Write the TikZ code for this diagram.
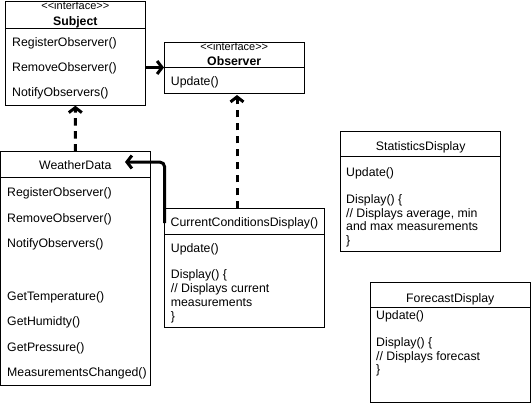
\documentclass[tikz,border=0pt]{standalone}
\usepackage{fontspec}
\setmainfont{Liberation Sans}
\usetikzlibrary{arrows.meta,calc}
\newcommand{\fs}{\fontsize{12.3}{14}\selectfont}
\newcommand{\fss}{\fontsize{11}{12}\selectfont}
\newcommand{\stereotxt}{<{}<interface>{}>}
\begin{document}
\begin{tikzpicture}[x=1pt,y=-1pt,
  box/.style={draw, line width=1pt, rectangle, inner sep=0pt, outer sep=0pt, anchor=north west},
  txt/.style={anchor=base west, inner sep=0pt, font=\fs},
  ttl/.style={anchor=base, inner sep=0pt, font=\fs},
  ttlb/.style={anchor=base, inner sep=0pt, font=\fs\bfseries},
  stereo/.style={anchor=base, inner sep=0pt, font=\fss},
  divider/.style={line width=1pt},
  conn/.style={line width=3pt, -{Straight Barb[length=5pt,width=13pt]}},
  dconn/.style={line width=3pt, dash pattern=on 7.5pt off 5.5pt, -{Straight Barb[length=5pt,width=13pt]}}
]
\useasboundingbox (0,0) rectangle (531,405);

% Subject
\node[box, minimum width=140.7pt, minimum height=104.7pt] (subject) at (5,1) {};
\draw[divider] (subject.west |- 0,28) -- (subject.east |- 0,28);
\node[stereo] (subst) at (75.3,9.5) {\stereotxt};
\node[ttlb] (subname) at (75.3,25) {Subject};
\node[txt] (s1) at (12,46) {RegisterObserver()};
\node[txt] (s2) at (12,71.7) {RemoveObserver()};
\node[txt] (s3) at (12,96) {NotifyObservers()};

% Observer
\node[box, minimum width=140.3pt, minimum height=51pt] (observer) at (164,42) {};
\draw[divider] (observer.west |- 0,67) -- (observer.east |- 0,67);
\node[stereo] (obst) at (234.2,50) {\stereotxt};
\node[ttlb] (obname) at (234.2,65) {Observer};
\node[txt] (o1) at (170.7,85) {Update()};

% WeatherData
\node[box, minimum width=149.5pt, minimum height=234pt] (wd) at (0.5,151.7) {};
\draw[divider] (wd.west |- 0,177) -- (wd.east |- 0,177);
\node[ttl] (wdname) at (75.25,169.3) {WeatherData};
\node[txt] (w1) at (7,196.7) {RegisterObserver()};
\node[txt] (w2) at (7,222) {RemoveObserver()};
\node[txt] (w3) at (7,247.3) {NotifyObservers()};
\node[txt] (w4) at (7,300) {GetTemperature()};
\node[txt] (w5) at (7,325.7) {GetHumidty()};
\node[txt] (w6) at (7,351) {GetPressure()};
\begin{scope}
\clip (wd.north west) rectangle (wd.south east);
\node[txt] (w7) at (7,376.7) {MeasurementsChanged()};
\end{scope}

% CurrentConditionsDisplay
\node[box, minimum width=159.6pt, minimum height=119.4pt] (ccd) at (164.7,208.3) {};
\draw[divider] (ccd.west |- 0,234.3) -- (ccd.east |- 0,234.3);
\node[ttl] (ccdname) at (244.5,226.7) {CurrentConditionsDisplay()};
\node[txt] (c1) at (170.7,252.3) {Update()};
\node[txt] (c2) at (170.7,278.3) {Display() \{};
\node[txt] (c3) at (170.7,292.3) {// Displays current};
\node[txt] (c4) at (170.7,306.3) {measurements};
\node[txt] (c5) at (170.7,320.3) {\}};

% StatisticsDisplay
\node[box, minimum width=160pt, minimum height=120pt] (stat) at (340.7,131.7) {};
\draw[divider] (stat.west |- 0,156.7) -- (stat.east |- 0,156.7);
\node[ttl] (statname) at (420.7,150.7) {StatisticsDisplay};
\node[txt] (t1) at (346,176.7) {Update()};
\node[txt] (t2) at (346,203.5) {Display() \{};
\node[txt] (t3) at (346,217) {// Displays average, min};
\node[txt] (t4) at (346,230.5) {and max measurements};
\node[txt] (t5) at (346,244) {\}};

% ForecastDisplay
\node[box, minimum width=159.3pt, minimum height=120pt] (fc) at (370.7,282.3) {};
\draw[divider] (fc.west |- 0,307.3) -- (fc.east |- 0,307.3);
\node[ttl] (fcname) at (450.3,302.7) {ForecastDisplay};
\node[txt] (f1) at (376,319) {Update()};
\node[txt] (f2) at (376,346.7) {Display() \{};
\node[txt] (f3) at (376,360) {// Displays forecast};
\node[txt] (f4) at (376,373.5) {\}};

% connectors
\draw[conn] (subject.east |- observer.west) -- (observer.west);
\draw[dconn] (wd.north) -- (subject.south);
\draw[dconn] (ccd.north -| 237,0) -- ($(observer.south -| 237,0)+(0,2)$);
\coordinate (wdtip) at ($(wd.north east)+(-25,10.3)$);
\draw[conn, rounded corners=5pt] (ccd.west |- 0,223) |- (wdtip);
\end{tikzpicture}
\end{document}
